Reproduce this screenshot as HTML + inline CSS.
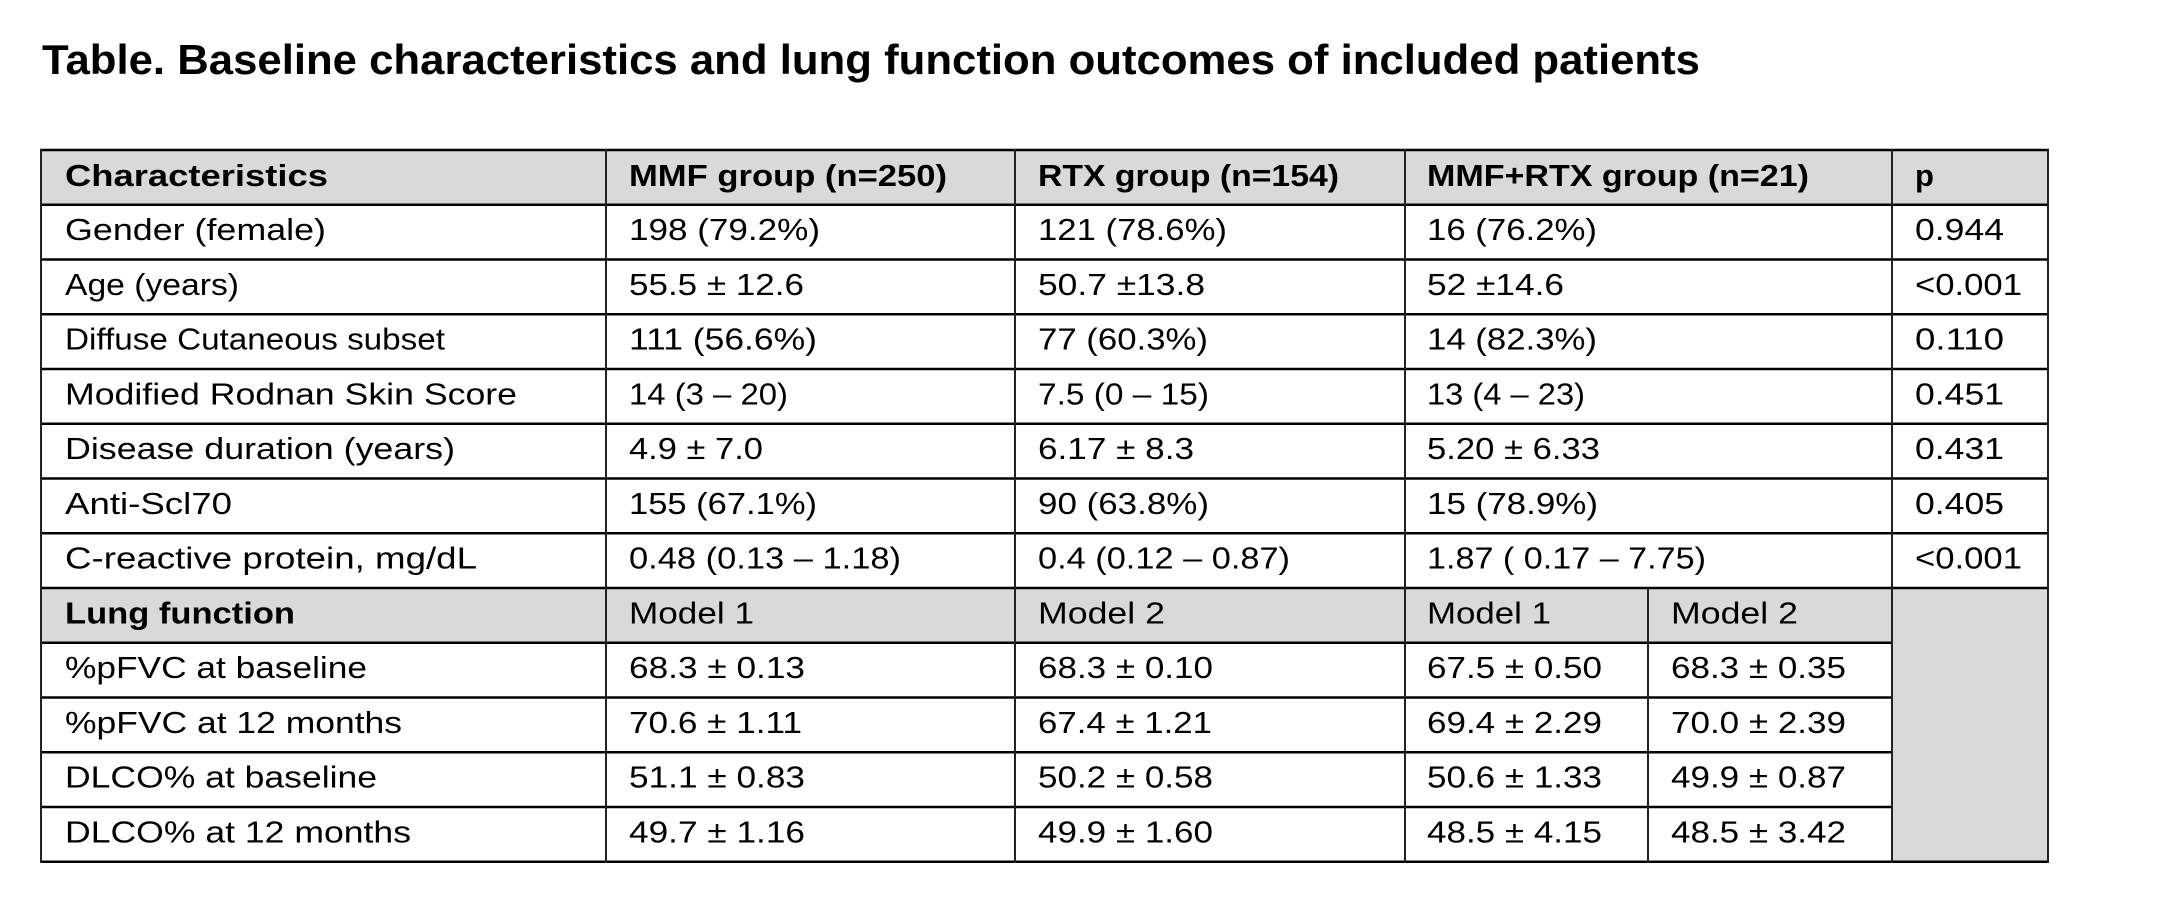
<!DOCTYPE html>
<html>
<head>
<meta charset="utf-8">
<style>
html,body{margin:0;padding:0;background:#fff;}
svg{display:block;}
text{font-family:"Liberation Sans",Arial,sans-serif;fill:#000;}
.b{font-weight:bold;}
.t{font-size:31px;}
</style>
</head>
<body>
<svg width="2162" height="924" viewBox="0 0 2162 924" xmlns="http://www.w3.org/2000/svg">
<rect x="0" y="0" width="2162" height="924" fill="#fff"/>
<!-- Title -->
<text x="42" y="74" class="b" font-size="42" textLength="1658" lengthAdjust="spacingAndGlyphs">Table. Baseline characteristics and lung function outcomes of included patients</text>

<!-- gray fills -->
<rect x="41" y="150" width="2007" height="54.75" fill="#d9d9d9"/>
<rect x="41" y="588" width="1851" height="54.75" fill="#d9d9d9"/>
<rect x="1892" y="588" width="156" height="273.75" fill="#d9d9d9"/>

<!-- horizontal lines -->
<g stroke="#000" stroke-width="2.6">
<line x1="40" y1="150" x2="2049" y2="150"/>
<line x1="40" y1="204.75" x2="2049" y2="204.75"/>
<line x1="40" y1="259.5" x2="2049" y2="259.5"/>
<line x1="40" y1="314.25" x2="2049" y2="314.25"/>
<line x1="40" y1="369" x2="2049" y2="369"/>
<line x1="40" y1="423.75" x2="2049" y2="423.75"/>
<line x1="40" y1="478.5" x2="2049" y2="478.5"/>
<line x1="40" y1="533.25" x2="2049" y2="533.25"/>
<line x1="40" y1="588" x2="2049" y2="588"/>
<line x1="40" y1="642.75" x2="1892" y2="642.75"/>
<line x1="40" y1="697.5" x2="1892" y2="697.5"/>
<line x1="40" y1="752.25" x2="1892" y2="752.25"/>
<line x1="40" y1="807" x2="1892" y2="807"/>
<line x1="40" y1="861.75" x2="2049" y2="861.75"/>
</g>
<!-- vertical lines -->
<g stroke="#222" stroke-width="2">
<line x1="41" y1="149" x2="41" y2="863"/>
<line x1="606" y1="149" x2="606" y2="863"/>
<line x1="1015" y1="149" x2="1015" y2="863"/>
<line x1="1405" y1="149" x2="1405" y2="863"/>
<line x1="1648" y1="588" x2="1648" y2="863"/>
<line x1="1892" y1="149" x2="1892" y2="863"/>
<line x1="2048" y1="149" x2="2048" y2="863"/>
</g>

<g class="t" font-size="31">
<!-- header -->
<text x="65" y="186" class="b" textLength="263" lengthAdjust="spacingAndGlyphs">Characteristics</text>
<text x="629" y="186" class="b" textLength="318" lengthAdjust="spacingAndGlyphs">MMF group (n=250)</text>
<text x="1038" y="186" class="b" textLength="301" lengthAdjust="spacingAndGlyphs">RTX group (n=154)</text>
<text x="1427" y="186" class="b" textLength="382" lengthAdjust="spacingAndGlyphs">MMF+RTX group (n=21)</text>
<text x="1915" y="186" class="b">p</text>

<!-- row 1 -->
<text x="65" y="240" textLength="261" lengthAdjust="spacingAndGlyphs">Gender (female)</text>
<text x="629" y="240" textLength="191" lengthAdjust="spacingAndGlyphs">198 (79.2%)</text>
<text x="1038" y="240" textLength="189" lengthAdjust="spacingAndGlyphs">121 (78.6%)</text>
<text x="1427" y="240" textLength="170" lengthAdjust="spacingAndGlyphs">16 (76.2%)</text>
<text x="1915" y="240" textLength="89" lengthAdjust="spacingAndGlyphs">0.944</text>

<!-- row 2 -->
<text x="65" y="294.75" textLength="174" lengthAdjust="spacingAndGlyphs">Age (years)</text>
<text x="629" y="294.75" textLength="175" lengthAdjust="spacingAndGlyphs">55.5 ± 12.6</text>
<text x="1038" y="294.75" textLength="167" lengthAdjust="spacingAndGlyphs">50.7 ±13.8</text>
<text x="1427" y="294.75" textLength="137" lengthAdjust="spacingAndGlyphs">52 ±14.6</text>
<text x="1915" y="294.75" textLength="107" lengthAdjust="spacingAndGlyphs">&lt;0.001</text>

<!-- row 3 -->
<text x="65" y="349.5" textLength="380" lengthAdjust="spacingAndGlyphs">Diffuse Cutaneous subset</text>
<text x="629" y="349.5" textLength="188" lengthAdjust="spacingAndGlyphs">111 (56.6%)</text>
<text x="1038" y="349.5" textLength="170" lengthAdjust="spacingAndGlyphs">77 (60.3%)</text>
<text x="1427" y="349.5" textLength="170" lengthAdjust="spacingAndGlyphs">14 (82.3%)</text>
<text x="1915" y="349.5" textLength="89" lengthAdjust="spacingAndGlyphs">0.110</text>

<!-- row 4 -->
<text x="65" y="404.25" textLength="452" lengthAdjust="spacingAndGlyphs">Modified Rodnan Skin Score</text>
<text x="629" y="404.25" textLength="159" lengthAdjust="spacingAndGlyphs">14 (3 – 20)</text>
<text x="1038" y="404.25" textLength="171" lengthAdjust="spacingAndGlyphs">7.5 (0 – 15)</text>
<text x="1427" y="404.25" textLength="158" lengthAdjust="spacingAndGlyphs">13 (4 – 23)</text>
<text x="1915" y="404.25" textLength="89" lengthAdjust="spacingAndGlyphs">0.451</text>

<!-- row 5 -->
<text x="65" y="459" textLength="390" lengthAdjust="spacingAndGlyphs">Disease duration (years)</text>
<text x="629" y="459" textLength="134" lengthAdjust="spacingAndGlyphs">4.9 ± 7.0</text>
<text x="1038" y="459" textLength="156" lengthAdjust="spacingAndGlyphs">6.17 ± 8.3</text>
<text x="1427" y="459" textLength="173" lengthAdjust="spacingAndGlyphs">5.20 ± 6.33</text>
<text x="1915" y="459" textLength="89" lengthAdjust="spacingAndGlyphs">0.431</text>

<!-- row 6 -->
<text x="65" y="513.75" textLength="167" lengthAdjust="spacingAndGlyphs">Anti-Scl70</text>
<text x="629" y="513.75" textLength="188" lengthAdjust="spacingAndGlyphs">155 (67.1%)</text>
<text x="1038" y="513.75" textLength="171" lengthAdjust="spacingAndGlyphs">90 (63.8%)</text>
<text x="1427" y="513.75" textLength="171" lengthAdjust="spacingAndGlyphs">15 (78.9%)</text>
<text x="1915" y="513.75" textLength="89" lengthAdjust="spacingAndGlyphs">0.405</text>

<!-- row 7 -->
<text x="65" y="568.5" textLength="412" lengthAdjust="spacingAndGlyphs">C-reactive protein, mg/dL</text>
<text x="629" y="568.5" textLength="272" lengthAdjust="spacingAndGlyphs">0.48 (0.13 – 1.18)</text>
<text x="1038" y="568.5" textLength="252" lengthAdjust="spacingAndGlyphs">0.4 (0.12 – 0.87)</text>
<text x="1427" y="568.5" textLength="279" lengthAdjust="spacingAndGlyphs">1.87 ( 0.17 – 7.75)</text>
<text x="1915" y="568.5" textLength="107" lengthAdjust="spacingAndGlyphs">&lt;0.001</text>

<!-- lung function header -->
<text x="65" y="623.25" class="b" textLength="230" lengthAdjust="spacingAndGlyphs">Lung function</text>
<text x="629" y="623.25" textLength="125" lengthAdjust="spacingAndGlyphs">Model 1</text>
<text x="1038" y="623.25" textLength="127" lengthAdjust="spacingAndGlyphs">Model 2</text>
<text x="1427" y="623.25" textLength="124" lengthAdjust="spacingAndGlyphs">Model 1</text>
<text x="1671" y="623.25" textLength="127" lengthAdjust="spacingAndGlyphs">Model 2</text>

<!-- row 9 -->
<text x="65" y="678" textLength="302" lengthAdjust="spacingAndGlyphs">%pFVC at baseline</text>
<text x="629" y="678" textLength="176" lengthAdjust="spacingAndGlyphs">68.3 ± 0.13</text>
<text x="1038" y="678" textLength="175" lengthAdjust="spacingAndGlyphs">68.3 ± 0.10</text>
<text x="1427" y="678" textLength="175" lengthAdjust="spacingAndGlyphs">67.5 ± 0.50</text>
<text x="1671" y="678" textLength="175" lengthAdjust="spacingAndGlyphs">68.3 ± 0.35</text>

<!-- row 10 -->
<text x="65" y="732.75" textLength="337" lengthAdjust="spacingAndGlyphs">%pFVC at 12 months</text>
<text x="629" y="732.75" textLength="173" lengthAdjust="spacingAndGlyphs">70.6 ± 1.11</text>
<text x="1038" y="732.75" textLength="174" lengthAdjust="spacingAndGlyphs">67.4 ± 1.21</text>
<text x="1427" y="732.75" textLength="175" lengthAdjust="spacingAndGlyphs">69.4 ± 2.29</text>
<text x="1671" y="732.75" textLength="175" lengthAdjust="spacingAndGlyphs">70.0 ± 2.39</text>

<!-- row 11 -->
<text x="65" y="787.5" textLength="312" lengthAdjust="spacingAndGlyphs">DLCO% at baseline</text>
<text x="629" y="787.5" textLength="176" lengthAdjust="spacingAndGlyphs">51.1 ± 0.83</text>
<text x="1038" y="787.5" textLength="175" lengthAdjust="spacingAndGlyphs">50.2 ± 0.58</text>
<text x="1427" y="787.5" textLength="175" lengthAdjust="spacingAndGlyphs">50.6 ± 1.33</text>
<text x="1671" y="787.5" textLength="175" lengthAdjust="spacingAndGlyphs">49.9 ± 0.87</text>

<!-- row 12 -->
<text x="65" y="842.25" textLength="346" lengthAdjust="spacingAndGlyphs">DLCO% at 12 months</text>
<text x="629" y="842.25" textLength="176" lengthAdjust="spacingAndGlyphs">49.7 ± 1.16</text>
<text x="1038" y="842.25" textLength="175" lengthAdjust="spacingAndGlyphs">49.9 ± 1.60</text>
<text x="1427" y="842.25" textLength="175" lengthAdjust="spacingAndGlyphs">48.5 ± 4.15</text>
<text x="1671" y="842.25" textLength="175" lengthAdjust="spacingAndGlyphs">48.5 ± 3.42</text>
</g>
</svg>
</body>
</html>
